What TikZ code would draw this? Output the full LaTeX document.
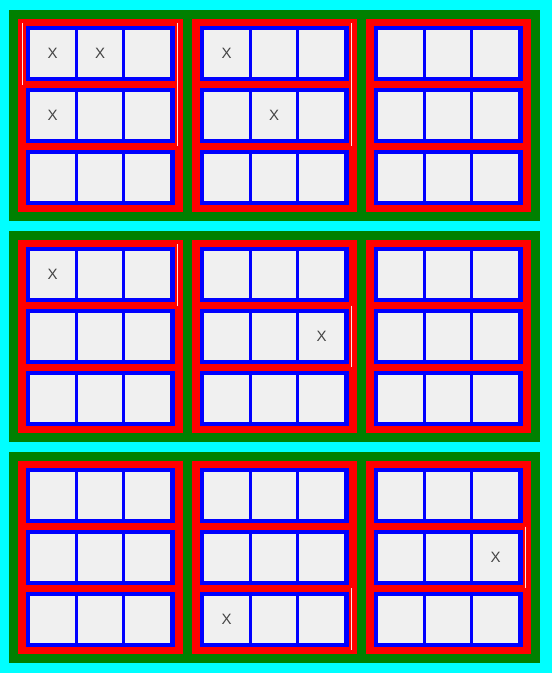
\documentclass[tikz,border=0pt]{standalone}
\usepackage{fontspec}
\setsansfont{Liberation Sans}
\definecolor{framecyan}{HTML}{00FFFF}
\definecolor{panelgreen}{HTML}{008000}
\definecolor{cellgray}{HTML}{F0F0F0}
\definecolor{markgray}{HTML}{454545}
\definecolor{glint}{HTML}{FFE4E4}

\begin{document}
\begin{tikzpicture}[x=1pt, y=-1pt,
	every node/.style={font=\sffamily\fontsize{15}{15}\selectfont, text=markgray, inner sep=0pt},
	cellbox/.style={fill=cellgray},
	glintline/.style={glint, line width=1.4pt}]
	\fill[framecyan] (0,0) rectangle (552,673);
	\useasboundingbox (0,0) rectangle (552,673);
	% three green panels, each with 3 red columns of 3 blue rows
	\foreach \p in {0,1,2} {
		\fill[panelgreen] (9,10+221*\p) rectangle (540,221+221*\p);
		\foreach \c in {0,1,2} {
			\fill[red] (18+174*\c,19+221*\p) rectangle (183+174*\c,212+221*\p);
			\foreach \r in {0,1,2} {
				\begin{scope}[shift={(25.5+174*\c,26+221*\p+62*\r)}]
					\fill[blue] (0,0) rectangle (149,55);
					\foreach \n in {0,1,2}
						\fill[cellbox] (4.6+47.47*\n,4.4) rectangle (49.47+47.47*\n,50.8);
				\end{scope}
			}
		}
	}
	% marks: panel/column/row/cell
	\foreach \p/\c/\r/\n in {0/0/0/0, 0/0/0/1, 0/0/1/0, 0/1/0/0, 0/1/1/1, 1/0/0/0, 1/1/1/2, 2/1/2/0, 2/2/1/2}
		\node (mark-\p-\c-\r-\n) at (52.6+174*\c+47.47*\n,53.5+221*\p+62*\r) {X};
	% thin light strokes beside some rows
	\foreach \p/\c/\a/\b in {0/0/0/2, 0/1/0/2, 1/0/0/1, 1/1/1/2, 2/1/2/3, 2/2/1/2}
		\draw[glintline] (177.7+174*\c,23+221*\p+61.5*\a) -- (177.7+174*\c,23+221*\p+61.5*\b);
	\draw[glintline] (22.7,23) -- (22.7,84.5);
\end{tikzpicture}
\end{document}
